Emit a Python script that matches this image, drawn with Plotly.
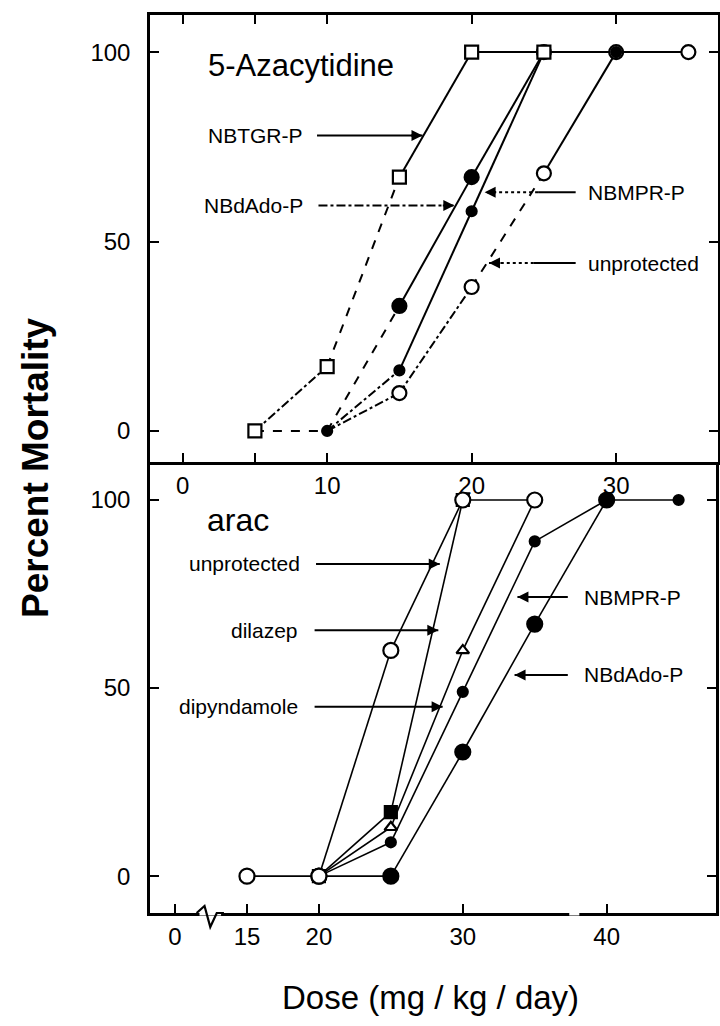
import plotly.graph_objects as go

# ---------------- data: 5-Azacytidine (top panel) ----------------
aza_dose_nbtgr = [5, 10, 15, 20, 25]
aza_mort_nbtgr = [0, 17, 67, 100, 100]
aza_dose_nbdado = [10, 15, 20, 25]
aza_mort_nbdado = [0, 33, 67, 100]
aza_dose_nbmpr = [10, 15, 20, 25, 30]
aza_mort_nbmpr = [0, 16, 58, 100, 100]
aza_dose_unprot = [5, 10, 15, 20, 25, 30, 35]
aza_mort_unprot = [0, 0, 10, 38, 68, 100, 100]

# ---------------- data: arac (bottom panel) ----------------
arac_dose_unprot = [15, 20, 25, 30, 35]
arac_mort_unprot = [0, 0, 60, 100, 100]
arac_dose_dilazep = [20, 25, 30]
arac_mort_dilazep = [0, 17, 100]
arac_dose_dipyr = [20, 25, 30, 35]
arac_mort_dipyr = [0, 13, 60, 100]
arac_dose_nbmpr = [20, 25, 30, 35, 40, 45]
arac_mort_nbmpr = [0, 9, 49, 89, 100, 100]
arac_dose_nbdado = [20, 25, 30, 35, 40]
arac_mort_nbdado = [0, 0, 33, 67, 100]

# ---------------- tick labels ----------------
top_x_ticks = [0, 5, 10, 20, 30]
top_x_labels = ["0", "", "10", "20", "30"]
bot_x_ticks = [10, 15, 20, 30, 40]          # first position carries the "0" before the axis break
bot_x_labels = ["0", "15", "20", "30", "40"]
y_ticks = [0, 50, 100]
y_labels = ["0", "50", "100"]

FONT = "Liberation Sans, Arial, sans-serif"
W, H = 720, 1026

fig = go.Figure()

def seg_lines(x, y, dashes, width, xa, ya):
    for i in range(len(x) - 1):
        fig.add_trace(go.Scatter(
            x=x[i:i + 2], y=y[i:i + 2], mode="lines",
            line=dict(color="black", width=width, dash=dashes[i]),
            xaxis=xa, yaxis=ya, hoverinfo="skip", showlegend=False))

def markers(x, y, symbol, size, fill, xa, ya):
    fig.add_trace(go.Scatter(
        x=x, y=y, mode="markers", cliponaxis=False,
        marker=dict(symbol=symbol, size=size, color=fill,
                    line=dict(color="black", width=2.2)),
        xaxis=xa, yaxis=ya, showlegend=False))

# ---- top panel lines ----
seg_lines(aza_dose_unprot, aza_mort_unprot,
          ["dash", "dashdot", "dashdot", "dash", "solid", "solid"], 2, "x", "y")
seg_lines(aza_dose_nbtgr, aza_mort_nbtgr,
          ["dashdot", "dash", "solid", "solid"], 2, "x", "y")
seg_lines(aza_dose_nbdado, aza_mort_nbdado,
          ["dash", "solid", "solid"], 2, "x", "y")
seg_lines(aza_dose_nbmpr, aza_mort_nbmpr,
          ["dashdot", "solid", "solid", "solid"], 2, "x", "y")
# ---- top panel markers (shared start points show only the small filled mark) ----
markers(aza_dose_unprot[2:], aza_mort_unprot[2:], "circle", 14, "white", "x", "y")
markers(aza_dose_nbdado[1:], aza_mort_nbdado[1:], "circle", 14, "black", "x", "y")
markers(aza_dose_nbmpr, aza_mort_nbmpr, "circle", 10, "black", "x", "y")
markers(aza_dose_nbtgr, aza_mort_nbtgr, "square", 13, "white", "x", "y")

# ---- bottom panel lines ----
for xs, ys in [(arac_dose_unprot, arac_mort_unprot),
               (arac_dose_dilazep, arac_mort_dilazep),
               (arac_dose_dipyr, arac_mort_dipyr),
               (arac_dose_nbmpr, arac_mort_nbmpr),
               (arac_dose_nbdado, arac_mort_nbdado)]:
    seg_lines(xs, ys, ["solid"] * (len(xs) - 1), 1.6, "x2", "y2")
# ---- bottom panel markers ----
markers(arac_dose_dilazep, arac_mort_dilazep, "square", 12, "black", "x2", "y2")
markers(arac_dose_nbdado, arac_mort_nbdado, "circle", 15, "black", "x2", "y2")
markers(arac_dose_nbmpr, arac_mort_nbmpr, "circle", 10, "black", "x2", "y2")
markers(arac_dose_dipyr, arac_mort_dipyr, "triangle-up", 11, "white", "x2", "y2")
markers(arac_dose_unprot, arac_mort_unprot, "circle", 15, "white", "x2", "y2")

# ---------------- annotations ----------------
ann = []
shapes = []

def label(text, x, y, xa, ya, anchor, size=21):
    ann.append(dict(text=text, x=x, y=y, xref=xa, yref=ya, showarrow=False,
                    xanchor=anchor, yanchor="middle",
                    font=dict(family=FONT, size=size, color="black")))

def arrow(x0, x1, y, xa, ya, dash="solid", split=None, dash2="dot"):
    # line from x0 (tail) to x1 (head) plus a small arrow head;
    # optional split point where the line style changes to dash2
    if split is None:
        shapes.append(dict(type="line", xref=xa, yref=ya, x0=x0, x1=x1, y0=y, y1=y,
                           line=dict(color="black", width=2, dash=dash)))
    else:
        shapes.append(dict(type="line", xref=xa, yref=ya, x0=x0, x1=split, y0=y, y1=y,
                           line=dict(color="black", width=2, dash=dash)))
        shapes.append(dict(type="line", xref=xa, yref=ya, x0=split, x1=x1, y0=y, y1=y,
                           line=dict(color="black", width=2, dash=dash2)))
    d = 0.9 if x1 > x0 else -0.9
    ann.append(dict(text="", x=x1, y=y, ax=x1 - d, ay=y, xref=xa, yref=ya,
                    axref=xa, ayref=ya, showarrow=True, arrowhead=2,
                    arrowsize=1.1, arrowwidth=2, arrowcolor="black"))

# top panel
label("5-Azacytidine", 8.2, 96.5, "x", "y", "center", 31)
label("NBTGR-P", 8.5, 78, "x", "y", "right")
arrow(9.3, 16.6, 78, "x", "y")
label("NBdAdo-P", 8.5, 59.5, "x", "y", "right")
arrow(9.4, 18.8, 59.5, "x", "y", "dashdot")
label("NBMPR-P", 27.9, 63, "x", "y", "left")
arrow(27.2, 20.9, 63, "x", "y", split=24.6)
label("unprotected", 27.9, 44.3, "x", "y", "left")
arrow(27.2, 21.2, 44.3, "x", "y", split=24.3)

# bottom panel
label("arac", 14.4, 94.7, "x2", "y2", "center", 32)
label("unprotected", 18.8, 83, "x2", "y2", "right")
arrow(19.8, 28.4, 83, "x2", "y2")
label("dilazep", 18.7, 65.4, "x2", "y2", "right")
arrow(19.7, 28.3, 65.4, "x2", "y2")
label("dipyndamole", 18.7, 45, "x2", "y2", "right")
arrow(19.7, 28.6, 45, "x2", "y2")
label("NBMPR-P", 38.3, 74.2, "x2", "y2", "left")
arrow(37.3, 33.8, 74.2, "x2", "y2")
label("NBdAdo-P", 38.3, 53.5, "x2", "y2", "left")
arrow(37.3, 33.6, 53.5, "x2", "y2")

# axis titles
ann.append(dict(text="<b>Percent Mortality</b>", x=35 / W, y=1 - 468 / H,
                xref="paper", yref="paper", showarrow=False, textangle=-90,
                xanchor="center", yanchor="middle",
                font=dict(family=FONT, size=37, color="black")))
ann.append(dict(text="Dose (mg / kg / day)", x=430 / W, y=1 - 997 / H,
                xref="paper", yref="paper", showarrow=False,
                xanchor="center", yanchor="middle",
                font=dict(family=FONT, size=33, color="black")))

# axis break on bottom x-axis (drawn in paper y so it is not clipped), and the
# small gap in the line before 40
AX_Y = 1 - 913 / H
shapes.append(dict(type="line", xref="x2", yref="paper", x0=11.7, x1=13.2,
                   y0=AX_Y, y1=AX_Y, line=dict(color="white", width=5)))
shapes.append(dict(type="path", xref="x2", yref="paper",
                   path=(f"M 11.5,{AX_Y} L 12.05,{AX_Y + 7 / H} "
                         f"L 12.45,{AX_Y - 14 / H} L 12.9,{AX_Y} L 13.4,{AX_Y}"),
                   line=dict(color="black", width=2.2)))
shapes.append(dict(type="line", xref="x2", yref="paper", x0=37.4, x1=38.1,
                   y0=AX_Y, y1=AX_Y, line=dict(color="white", width=5)))

axis_common = dict(showgrid=False, zeroline=False, showline=True, linecolor="black",
                   linewidth=2.5, ticks="inside", ticklen=9, tickwidth=2,
                   tickcolor="black",
                   tickfont=dict(family=FONT, size=24, color="black"))

fig.update_layout(
    width=W, height=H,
    margin=dict(l=0, r=0, t=0, b=0),
    paper_bgcolor="white", plot_bgcolor="rgba(0,0,0,0)",
    showlegend=False,
    xaxis=dict(domain=[150 / W, 718 / W], range=[-2.26, 37.05], anchor="y",
               tickmode="array", tickvals=top_x_ticks, ticktext=top_x_labels,
               mirror="ticks", **axis_common),
    yaxis=dict(domain=[1 - 462 / H, 1 - 15 / H], range=[-8.2, 109.8], anchor="x",
               tickmode="array", tickvals=y_ticks, ticktext=y_labels,
               mirror="ticks", ticklabelstandoff=12, **axis_common),
    xaxis2=dict(domain=[150 / W, 716 / W], range=[8.26, 47.6], anchor="y2",
                tickmode="array", tickvals=bot_x_ticks, ticktext=bot_x_labels,
                mirror=False, **axis_common),
    yaxis2=dict(domain=[1 - 913 / H, 1 - 462 / H], range=[-9.8, 110.1], anchor="x2",
                tickmode="array", tickvals=y_ticks, ticktext=y_labels,
                mirror="ticks", ticklabelstandoff=12, **axis_common),
    annotations=ann,
    shapes=shapes,
)

fig.write_html("out.html")
